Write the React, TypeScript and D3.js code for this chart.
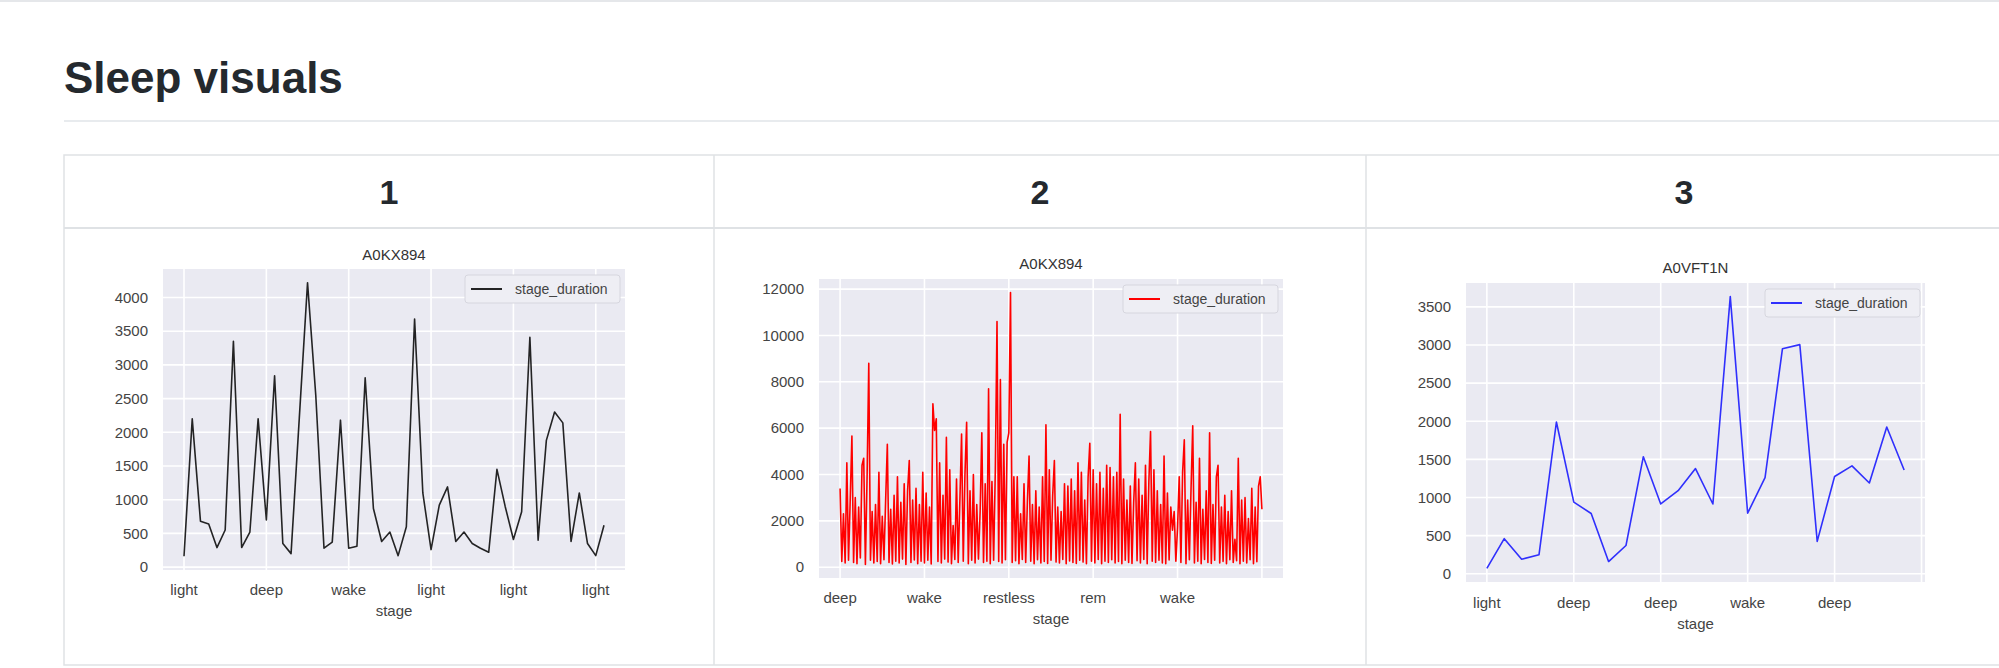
import React from "react";
import * as d3 from "d3";

// chart 1 – black series
const durations1 = [
  160, 2200, 680, 640, 290, 550, 3350, 290, 520, 2200,
  700, 2840, 350, 200, 2210, 4220, 2550, 280, 370, 2180,
  280, 310, 2810, 870, 380, 520, 170, 600, 3680, 1100,
  260, 920, 1190, 380, 520, 350, 280, 220, 1450, 900,
  410, 820, 3410, 400, 1880, 2300, 2140, 380, 1100, 350,
  170, 620,
];
const ticks1 = [
  { i: 0, label: "light" }, { i: 10, label: "deep" }, { i: 20, label: "wake" },
  { i: 30, label: "light" }, { i: 40, label: "light" }, { i: 50, label: "light" },
];

// chart 2 – red series
const durations2 = [
  3400, 250, 2300, 180, 4500, 300, 2900, 5660, 200, 3000,
  150, 2600, 400, 4400, 4700, 120, 3900, 8800, 300, 2400,
  180, 2700, 250, 4100, 150, 2200, 320, 2900, 5300, 200,
  2500, 140, 3100, 260, 3900, 180, 2800, 350, 3600, 120,
  3300, 4600, 200, 2900, 310, 3400, 150, 2700, 260, 4100,
  180, 3200, 300, 2600, 140, 7050, 5900, 6400, 250, 4500,
  180, 3100, 350, 5600, 220, 4200, 150, 1800, 330, 3800,
  200, 2900, 5750, 260, 4000, 6250, 150, 3300, 300, 4000,
  180, 2700, 350, 2400, 5800, 200, 3600, 260, 7700, 150,
  3700, 300, 4200, 10600, 250, 8100, 180, 5300, 320, 5400,
  5800, 11850, 200, 3900, 280, 3900, 150, 2300, 330, 3600,
  200, 2800, 4800, 260, 2700, 150, 3300, 320, 2600, 180,
  3900, 250, 6150, 160, 4200, 300, 3100, 4600, 220, 2600,
  180, 2400, 330, 3600, 150, 3500, 270, 3800, 200, 3300,
  160, 4500, 300, 4100, 220, 2900, 150, 3900, 5350, 260,
  4200, 180, 3600, 330, 4100, 150, 3400, 260, 4400, 200,
  4300, 320, 3900, 180, 4100, 250, 6600, 150, 3800, 300,
  2900, 200, 3500, 160, 2800, 4500, 280, 3800, 180, 3100,
  330, 4400, 150, 3700, 5850, 260, 4200, 200, 3300, 300,
  2700, 180, 4800, 150, 3200, 310, 2600, 1600, 2400, 260,
  1700, 3900, 200, 4100, 5500, 150, 2900, 320, 3400, 6100,
  180, 2800, 260, 4700, 150, 2500, 330, 3300, 200, 5800,
  160, 2700, 300, 3900, 4400, 180, 2600, 250, 3100, 150,
  2400, 320, 3300, 200, 1200, 280, 4700, 150, 2900, 260,
  3000, 180, 2100, 320, 3400, 150, 2600, 240, 3500, 3900,
  2500,
];
const ticks2 = [
  { i: 0, label: "deep" }, { i: 50, label: "wake" }, { i: 100, label: "restless" },
  { i: 150, label: "rem" }, { i: 200, label: "wake" }, { i: 250, label: "" },
];

// chart 3 – blue series
const durations3 = [
  70, 460, 190, 250, 1990, 940, 790, 160, 370, 1535,
  915, 1090, 1380, 915, 3635, 795, 1260, 2950, 3005, 425,
  1275, 1415, 1190, 1925, 1360,
];
const ticks3 = [
  { i: 0, label: "light" }, { i: 5, label: "deep" }, { i: 10, label: "deep" },
  { i: 15, label: "wake" }, { i: 20, label: "deep" }, { i: 25, label: "" },
];

const columns = ["1", "2", "3"];
const FONT = "'Liberation Sans', Arial, Helvetica, sans-serif";

type Tick = { i: number; label: string };

function Panel({ data, color, ticks, yStep, yMax, box, title, opacity = 1 }: {
  data: number[]; color: string; ticks: Tick[]; yStep: number; yMax: number;
  box: { x0: number; x1: number; y0: number; y1: number; titleY: number; labelY: number; stageY: number };
  title: string; opacity?: number;
}) {
  const n = data.length - 1;
  const [lo, hi] = d3.extent(data) as [number, number];
  const pad = (hi - lo) * 0.05;
  const x = d3.scaleLinear().domain([-n * 0.05, n * 1.05]).range([box.x0, box.x1]);
  const y = d3.scaleLinear().domain([lo - pad, hi + pad]).range([box.y1, box.y0]);
  const yTicks = d3.range(0, yMax + 1, yStep);
  const line = d3.line<number>().x((_, i) => x(i)).y((d) => y(d));
  const cx = (box.x0 + box.x1) / 2;
  return (
    <g fontFamily={FONT}>
      <rect x={box.x0} y={box.y0} width={box.x1 - box.x0} height={box.y1 - box.y0} fill="#EAEAF2" />
      {yTicks.map((t) => (
        <g key={"y" + t}>
          <line x1={box.x0} x2={box.x1} y1={y(t)} y2={y(t)} stroke="#fff" strokeWidth={1.6} />
          <text x={box.x0 - 15} y={y(t)} dy="0.35em" textAnchor="end" fontSize={15} fill="#444">{t}</text>
        </g>
      ))}
      {ticks.map((t) => (
        <g key={"x" + t.i}>
          <line x1={x(t.i)} x2={x(t.i)} y1={box.y0} y2={box.y1} stroke="#fff" strokeWidth={1.6} />
          <text x={x(t.i)} y={box.labelY} textAnchor="middle" fontSize={15} fill="#444">{t.label}</text>
        </g>
      ))}
      <path d={line(data) ?? ""} fill="none" stroke={color} strokeWidth={1.6} strokeOpacity={opacity} strokeLinejoin="round" />
      <text x={cx} y={box.titleY} textAnchor="middle" fontSize={15} fill="#333">{title}</text>
      <text x={cx} y={box.stageY} textAnchor="middle" fontSize={15} fill="#444">stage</text>
      <g transform={`translate(${box.x1 - 160},${box.y0 + 6})`}>
        <rect width={155} height={28} rx={3} fill="#EEEEF4" stroke="#d6d6de" />
        <line x1={6} x2={37} y1={14} y2={14} stroke={color} strokeWidth={2} strokeOpacity={opacity} />
        <text x={50} y={14} dy="0.35em" fontSize={14} fill="#444">stage_duration</text>
      </g>
    </g>
  );
}

export default function App() {
  const colX = [64, 714, 1366, 2010];
  return (
    <svg width={1999} height={668} style={{ position: "absolute", left: 0, top: 0, background: "#fff" }}>
      <line x1={0} x2={1999} y1={1} y2={1} stroke="#e5e7ea" strokeWidth={2} />
      <text x={64} y={93} fontFamily={FONT} fontWeight="bold" fontSize={44} fill="#24292e">Sleep visuals</text>
      <line x1={64} x2={1999} y1={121} y2={121} stroke="#e1e4e8" strokeWidth={1.5} />
      <rect x={64} y={155} width={1960} height={510} fill="none" stroke="#dfe2e5" strokeWidth={1.5} />
      <line x1={64} x2={1999} y1={228} y2={228} stroke="#dfe2e5" strokeWidth={2} />
      {colX.slice(1, 3).map((cx) => (
        <line key={cx} x1={cx} x2={cx} y1={155} y2={665} stroke="#dfe2e5" strokeWidth={1.5} />
      ))}
      {columns.map((c, i) => (
        <text key={c} x={(colX[i] + Math.min(colX[i + 1], i === 2 ? 2002 : colX[i + 1])) / 2} y={204}
          textAnchor="middle" fontFamily={FONT} fontWeight="bold" fontSize={34} fill="#24292e">{c}</text>
      ))}
      <Panel data={durations1} color="#000" opacity={0.85} ticks={ticks1} yStep={500} yMax={4000} title="A0KX894"
        box={{ x0: 163, x1: 625, y0: 269, y1: 570, titleY: 260, labelY: 595, stageY: 616 }} />
      <Panel data={durations2} color="#ff0000" ticks={ticks2} yStep={2000} yMax={12000} title="A0KX894"
        box={{ x0: 819, x1: 1283, y0: 279, y1: 578, titleY: 269, labelY: 603, stageY: 624 }} />
      <Panel data={durations3} color="#0000ff" opacity={0.8} ticks={ticks3} yStep={500} yMax={3500} title="A0VFT1N"
        box={{ x0: 1466, x1: 1925, y0: 283, y1: 582, titleY: 273, labelY: 608, stageY: 629 }} />
    </svg>
  );
}
